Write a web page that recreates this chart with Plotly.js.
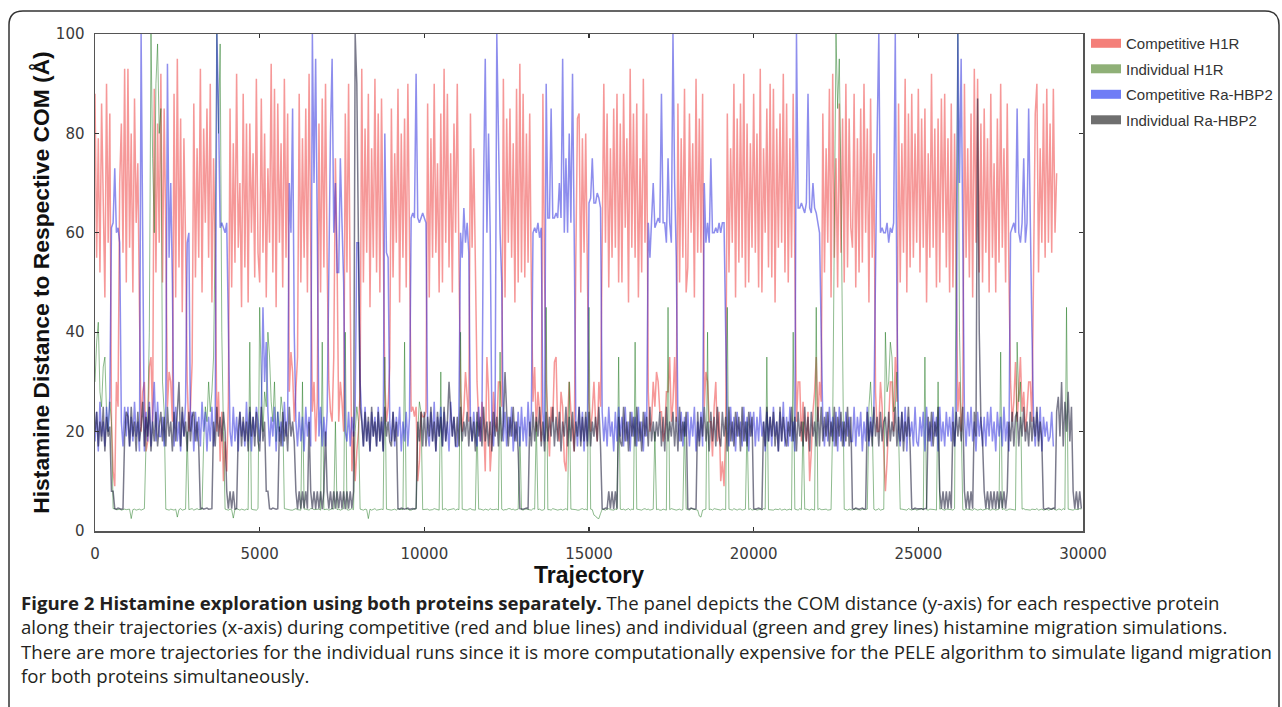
<!DOCTYPE html>
<html>
<head>
<meta charset="utf-8">
<script src="https://cdn.plot.ly/plotly-3.0.1.min.js"></script>
<style>
html,body{margin:0;padding:0;background:#ffffff;}
#chart{width:1282px;height:707px;}
</style>
</head>
<body>
<div id="chart"></div>
<script>
// ---------- DATA (one sample every 50 trajectories) ----------
const STEP = 50;
const seriesNames = ["Competitive H1R", "Individual H1R", "Competitive Ra-HBP2", "Individual Ra-HBP2"];

const compH1R = [
  88,55,79,52,86,61,47,90,58,84,22,12,9,30,25,70,82,56,93,50,
  93,57,80,48,87,62,74,45,20,28,30,16,18,33,35,22,89,52,82,58,
  92,50,85,60,25,32,30,22,88,47,95,53,83,44,79,58,30,20,25,34,
  86,51,77,55,93,48,81,62,85,55,90,46,75,57,20,28,14,24,10,18,
  12,26,85,49,78,54,92,57,70,45,88,53,82,46,82,60,76,51,91,56,
  50,87,56,80,47,73,58,94,52,89,45,86,58,78,49,91,55,84,28,36,
  32,22,28,35,88,50,79,55,85,48,92,55,24,30,18,26,82,48,87,53,
  90,54,30,24,22,35,75,55,22,30,26,20,84,52,90,47,12,20,10,16,
  20,28,93,50,81,56,88,45,77,55,91,52,84,48,87,60,30,22,25,33,
  85,51,76,58,89,46,80,55,83,49,90,58,24,25,23,25,10,14,24,23,
  23,24,86,47,79,55,90,56,74,48,84,50,93,58,88,53,76,48,82,60,
  90,55,28,20,24,32,26,22,84,57,77,50,30,22,18,26,22,12,35,28,
  12,18,28,22,20,30,30,25,91,47,83,58,85,55,78,46,89,50,94,52,
  88,51,80,54,84,49,26,33,20,28,24,18,88,52,30,22,15,25,22,34,
  35,20,18,28,25,14,12,22,30,24,20,16,55,83,84,48,79,56,80,51,
  26,20,24,30,22,18,30,25,53,90,58,84,49,77,55,85,57,88,50,82,
  50,88,61,79,46,93,57,84,55,86,47,75,52,91,58,84,28,20,22,30,
  25,32,30,24,24,18,20,28,28,35,22,26,35,22,86,50,79,55,89,48,
  53,84,60,78,47,91,56,83,56,88,25,32,30,22,22,15,25,30,18,24,
  10,14,9,20,84,52,77,58,90,47,83,54,86,55,92,49,82,50,78,57,
  88,56,80,49,93,48,77,60,85,53,90,51,89,46,81,57,84,58,92,52,
  86,50,79,55,88,47,22,30,30,18,26,20,18,24,10,16,24,28,35,22,
  30,26,84,52,77,58,89,47,92,55,75,49,86,56,83,50,90,53,83,61,
  57,88,49,79,52,85,54,90,60,81,46,87,55,76,28,20,20,30,25,16,
  8,14,22,30,30,20,35,26,86,50,78,56,91,48,84,53,88,55,80,58,
  89,52,83,57,85,46,76,55,92,57,81,49,83,50,87,60,88,53,79,48,
  86,49,80,55,24,30,20,26,90,55,77,51,84,47,93,58,91,52,82,50,
  85,56,79,48,88,55,74,48,83,54,90,57,77,50,86,52,30,22,26,34,
  22,28,35,24,28,20,24,30,30,22,55,84,90,52,77,58,86,55,89,58,
  82,56,89,60,72
];

const indivH1R = [
  30,38,42,28,25,33,35,24,20,26,22,4.5,4.5,4.3,4.3,4.4,4.2,4.3,4.4,4.3,
  4.3,4.4,2.5,4.3,4.4,4.2,4.3,4.4,4.2,4.3,4.5,18,22,40,100,75,60,90,98,80,
  85,30,24,4.4,4.3,4.2,4.4,4.3,4.2,4.4,2.8,4.3,4.5,4.2,4.3,4.4,20,4.3,4.4,4.5,
  4.2,4.4,4.5,4.3,4.3,4.4,18,25,22,30,24,28,35,60,100,80,98,40,20,4.4,
  4.3,4.2,4.4,4.3,2.6,4.4,4.5,4.3,4.2,4.4,4.3,4.2,4.4,4.3,38,4.4,4.3,4.2,4.2,4.5,
  45,30,20,28,25,40,35,26,22,30,18,24,20,27,24,4.5,4.4,4.3,4.3,4.2,
  4.2,4.4,4.5,4.3,4.3,4.2,30,4.4,4.4,4.3,4.2,4.5,4.5,4.3,4.3,4.4,4.4,4.2,38,4.3,
  4.3,4.4,4.2,4.3,4.5,4.4,22,4.3,4.4,4.2,4.3,4.5,40,4.3,4.2,4.4,4.5,4.3,20,25,
  22,4.4,4.3,4.2,4.4,4.3,2.5,4.4,4.2,4.3,4.5,4.2,4.3,4.4,4.4,4.3,35,4.4,4.3,4.2,
  4.2,4.3,4.4,4.2,4.5,4.4,4.3,4.3,38,4.4,4.4,4.2,4.2,4.3,4.5,4.4,20,26,24,4.3,
  4.3,4.4,4.4,4.2,4.2,4.3,4.5,4.4,4.3,4.2,32,4.3,4.4,4.5,4.2,4.3,4.3,4.4,4.5,4.2,
  4.4,4.3,40,4.4,4.3,4.2,4.2,4.4,4.5,4.3,4.3,4.2,22,4.4,4.4,4.3,4.2,4.4,4.3,4.2,
  4.5,4.3,4.3,4.4,4.4,4.2,36,4.4,4.2,4.3,4.3,4.5,4.5,4.3,4.4,4.2,4.3,4.4,21,4.3,
  4.2,4.4,4.4,4.3,4.3,4.2,4.5,4.4,22,4.3,4.4,4.2,4.2,4.4,45,4.3,4.3,4.2,4.5,4.4,
  4.4,4.2,4.3,4.4,4.2,4.3,4.5,4.2,30,4.4,4.4,4.3,4.3,4.2,4.2,4.4,4.5,4.3,4.4,4.2,
  45,4.4,4.3,3.2,3,2.6,2.5,3.5,4.4,4.3,4.2,4.4,4.5,4.3,4.3,4.2,4.4,4.3,35,4.4,
  4.3,4.4,4.2,4.3,4.5,4.2,4.4,4.3,38,4.4,4.3,4.2,4.2,4.4,4.5,4.3,4.4,4.2,4.3,4.4,
  20,4.3,4.4,4.2,4.2,4.4,4.3,4.2,45,4.3,4.5,4.4,4.4,4.2,4.3,4.4,4.2,4.3,22,4.4,
  4.3,4.2,4.5,4.4,4.4,4.3,4.2,3.0,2.8,4.2,4.3,4.4,40,4.3,4.4,4.2,4.5,4.4,4.3,4.2,
  4.2,4.4,4.4,4.3,45,4.4,4.3,4.2,4.5,4.3,4.2,4.4,4.4,4.2,4.3,4.4,22,4.3,4.5,4.2,
  4.3,4.4,4.2,4.3,4.4,4.2,4.5,4.4,35,4.3,4.3,4.2,4.2,4.4,4.4,4.3,4.5,4.2,4.3,4.4,
  4.2,4.3,4.4,4.2,40,4.4,4.3,4.2,4.5,4.3,22,4.4,4.4,4.3,4.2,4.4,4.3,4.2,45,4.3,
  4.5,4.3,4.3,4.4,4.4,4.2,4.2,4.3,22,60,100,85,95,70,30,4.4,4.3,4.2,4.4,4.3,
  4.2,4.4,4.5,4.3,4.3,4.2,4.4,4.3,4.3,4.4,25,30,22,4.4,4.2,4.3,4.5,4.2,4.3,4.4,
  40,28,30,38,35,24,25,32,20,4.4,4.4,4.3,4.3,4.2,4.5,4.3,4.2,4.4,4.4,4.2,
  4.3,4.4,4.5,4.2,35,4.3,4.2,4.4,4.4,4.3,4.3,4.2,30,4.4,4.5,4.3,4.2,4.4,4.4,4.3,
  4.3,4.2,4.5,60,100,40,20,4.3,4.2,4.4,4.4,4.3,4.3,4.2,4.5,4.4,4.2,4.3,4.4,4.2,
  4.3,4.4,4.5,4.3,4.2,4.4,4.4,4.2,4.3,4.4,36,4.3,4.5,4.2,4.2,4.4,4.4,4.3,4.3,4.2,
  38,26,30,4.4,4.5,4.3,4.3,4.2,4.2,4.4,4.4,4.3,4.5,4.2,4.3,4.4,4.2,4.3,4.4,4.2,
  4.3,4.4,4.5,4.3,4.2,4.4,4.4,4.2,4.5,4.3,45,4.4,4.3,4.2,4.2,4.4,4.4,4.3,4.5,4.4
];

const compRaHBP2 = [
  18,24,16,26,19,22,17,25,20,27,61,62,73,60,61,58,22,17,25,19,
  25,17,23,18,26,19,22,16,100,60,16,24,18,26,17,23,30,18,26,19,
  19,23,17,25,94,55,70,50,17,25,18,22,16,24,19,26,58,60,20,24,
  16,24,18,23,17,26,20,24,16,23,18,25,17,22,100,85,61,62,61,60,
  62,40,20,17,25,18,23,16,24,19,22,17,26,18,24,16,23,19,25,22,
  18,24,45,30,38,24,17,23,19,25,16,24,18,22,17,26,19,23,70,60,
  85,40,22,17,24,18,23,16,25,19,23,17,100,70,95,60,19,25,17,23,
  17,24,55,80,95,60,70,52,52,75,62,50,20,18,24,17,23,19,25,58,
  58,30,23,17,25,18,22,16,24,19,23,17,25,18,22,16,80,56,55,22,
  18,24,17,23,19,25,16,22,18,24,17,23,63,64,63,92,63,62,63,64,
  63,62,20,17,24,18,26,16,23,19,25,17,24,18,22,16,26,19,23,17,
  17,24,60,55,65,58,62,56,22,18,24,19,17,25,18,23,70,95,60,80,
  60,22,17,25,100,75,60,50,18,24,17,23,19,25,16,22,18,24,17,25,
  18,23,17,26,19,24,60,61,60,62,59,61,24,18,90,63,63,85,63,63,
  64,63,70,63,95,60,75,60,80,62,92,60,22,17,25,18,24,16,23,18,
  66,67,75,66,66,68,67,65,24,18,23,17,25,19,22,16,24,18,25,19,
  23,17,25,18,22,16,24,19,23,17,25,18,22,16,24,19,62,55,62,70,
  61,62,63,62,88,62,62,58,75,62,58,100,70,55,22,18,24,17,23,19,
  24,17,23,19,25,16,22,18,24,17,70,58,62,58,75,60,60,61,60,62,
  60,62,62,40,22,17,25,18,23,16,24,19,22,17,25,18,23,16,24,19,
  24,17,23,18,25,19,22,16,24,18,23,17,25,19,22,16,24,18,26,17,
  23,17,25,18,22,16,100,65,65,66,65,64,66,88,65,64,70,65,64,62,
  60,40,22,17,24,18,25,19,23,17,24,16,25,18,22,17,24,19,23,18,
  18,25,17,23,19,24,16,22,18,25,17,23,19,24,55,80,100,60,61,60,
  60,62,58,61,60,62,100,45,20,17,24,18,25,16,23,19,22,17,25,18,
  17,23,19,24,16,25,18,22,17,24,19,23,16,25,18,22,17,24,19,23,
  18,25,17,23,100,70,95,60,23,17,24,19,25,18,22,16,24,19,23,17,
  23,17,24,19,25,18,22,16,24,19,23,17,25,18,22,16,60,61,62,60,
  85,60,58,62,75,58,62,85,60,40,22,17,24,18,25,16,23,19,22,18,
  19,24,17
];

const indivRaHBP2 = [
  20,24,17,22,18,25,16,23,19,21,8,8,4.5,4.4,4.6,4.5,4.4,4.5,19,24,
  23,17,25,19,22,16,24,18,21,26,17,23,19,25,16,22,18,24,17,21,
  24,18,23,17,25,19,22,16,24,18,23,30,17,25,19,22,16,24,18,23,
  24,18,22,17,4.5,4.6,4.4,4.5,4.6,4.4,4.5,4.5,22,17,25,19,23,18,24,20,
  8,4.5,8,4.5,8,4.4,4.5,20,24,17,23,18,22,16,25,19,23,17,24,18,
  16,25,18,22,8,8,4.5,4.4,4.6,4.5,4.4,4.5,21,17,24,18,22,16,25,19,
  22,18,8,4.4,8,4.5,8,4.6,8,4.5,22,8,4.5,8,4.4,8,4.5,8,4.4,8,
  20,8,4.5,8,4.4,8,4.5,8,4.6,8,4.5,8,4.4,8,4.5,8,4.6,8,100,90,
  60,25,22,17,24,18,23,16,25,19,22,17,24,18,23,16,25,19,22,18,
  17,24,18,22,4.5,4.4,4.6,4.5,4.4,4.5,4.6,4.4,4.5,4.5,4.4,4.6,22,18,24,17,
  24,17,23,19,25,18,22,16,24,19,23,17,25,18,22,30,24,19,23,17,
  23,17,25,18,22,19,24,17,23,18,22,16,24,19,23,17,25,18,22,17,
  22,16,24,19,23,17,25,18,22,32,24,17,23,19,25,18,22,16,4.5,4.4,
  4.4,4.5,4.6,4.5,22,17,24,18,23,19,25,17,22,16,24,18,23,19,25,17,
  23,18,24,16,22,19,25,17,23,18,24,16,22,19,25,17,23,18,24,17,
  24,17,22,19,23,18,25,17,4.5,4.4,4.6,4.5,8,4.5,8,4.4,8,4.5,23,18,
  17,25,18,22,16,24,19,23,17,25,18,22,16,24,19,23,17,25,18,22,
  18,22,19,24,17,23,16,25,18,22,19,24,17,23,16,25,18,22,19,24,
  4.5,4.4,4.6,4.5,4.4,4.5,24,17,23,19,25,18,22,16,24,18,23,17,25,19,
  17,24,19,23,16,25,18,22,17,24,19,23,16,25,18,22,17,24,19,23,
  4.5,4.4,4.5,4.6,4.5,4.4,22,17,25,18,23,19,24,17,22,16,25,18,23,19,
  17,22,19,25,18,23,16,24,19,22,17,25,18,23,16,24,19,22,17,25,
  17,25,18,23,19,24,17,22,18,25,17,23,19,24,17,22,18,25,17,23,
  4.5,4.4,4.6,4.5,4.4,4.5,4.6,4.4,4.5,24,18,22,17,25,19,23,17,24,18,22,
  23,17,24,18,22,19,25,17,23,18,24,16,22,19,25,17,4.5,4.4,4.6,4.5,
  4.5,4.6,4.5,4.4,4.5,4.6,23,18,24,17,22,19,25,8,4.5,8,4.4,8,4.5,8,
  4.5,22,17,24,19,23,18,25,8,4.5,8,4.4,8,4.5,24,19,87,40,22,18,
  8,4.5,8,4.4,8,4.5,8,4.4,8,4.5,8,4.6,8,4.5,8,22,18,24,17,23,
  24,17,23,19,25,18,22,17,24,18,23,19,25,17,22,18,4.5,4.4,4.5,4.6,
  4.5,4.4,4.6,4.5,24,27,19,30,17,26,20,28,18,25,8,4.5,8,4.4,8,4.5
];

const xTickVals = [0, 5000, 10000, 15000, 20000, 25000, 30000];
const yTickVals = [0, 20, 40, 60, 80, 100];

const captionLines = [
  "<b>Figure 2 Histamine exploration using both proteins separately.</b> The panel depicts the COM distance (y-axis) for each respective protein",
  "along their trajectories (x-axis) during competitive (red and blue lines) and individual (green and grey lines) histamine migration simulations.",
  "There are more trajectories for the individual runs since it is more computationally expensive for the PELE algorithm to simulate ligand migration",
  "for both proteins simultaneously."
];

// ---------- STYLE ----------
const W = 1282, H = 707;
const PL = 95, PR = 1083, PT = 34, PB = 531;   // plot area in pixels
const pw = PR - PL, ph = PB - PT;
const px2x = p => (p - PL) / pw;
const py2y = p => (PB - p) / ph;

const lineColors = ["rgba(238,50,50,0.5)", "rgba(30,120,30,0.5)", "rgba(30,30,220,0.5)", "rgba(15,15,45,0.55)"];
const lineWidths = [1.5, 1, 1.5, 1.5];
const swatchColors = ["#f47f79", "#8fb077", "#6f7df6", "#6f6f6f"];
const dataSets = [compH1R, indivH1R, compRaHBP2, indivRaHBP2];

const traces = [];
dataSets.forEach((arr, k) => {
  traces.push({
    type: "scatter", mode: "lines",
    x: arr.map((_, i) => i * STEP), y: arr,
    line: {color: lineColors[k], width: lineWidths[k]},
    showlegend: false, hoverinfo: "skip", legendgroup: "g" + k
  });
});
seriesNames.forEach((nm, k) => {
  traces.push({
    type: "scatter", mode: "lines", x: [null], y: [null], name: nm,
    line: {color: swatchColors[k], width: 9},
    showlegend: true, legendgroup: "g" + k
  });
});

const font = "Liberation Sans, Arial, Helvetica, sans-serif";
const tickFont = "DejaVu Sans, Verdana, sans-serif";
const capFont = "Open Sans, Noto Sans, sans-serif";

const annotations = captionLines.map((t, i) => ({
  xref: "paper", yref: "paper",
  x: px2x(19), y: py2y(602 + i * 24.5),
  xanchor: "left", yanchor: "middle",
  text: t, showarrow: false, align: "left",
  font: {family: capFont, size: 18.6, color: "#231f20"}
}));

// rounded frame around the whole figure
const fx0 = px2x(9), fx1 = px2x(1279), fy0 = py2y(11), fyb = py2y(760);
const rx = 14 / pw, ry = 14 / ph;
const framePath = `M ${fx0},${fyb} L ${fx0},${fy0 - ry} Q ${fx0},${fy0} ${fx0 + rx},${fy0} ` +
  `L ${fx1 - rx},${fy0} Q ${fx1},${fy0} ${fx1},${fy0 - ry} L ${fx1},${fyb}`;

const layout = {
  width: W, height: H,
  margin: {l: PL, r: W - PR, t: PT, b: H - PB, pad: 0, autoexpand: false},
  paper_bgcolor: "#ffffff", plot_bgcolor: "#ffffff",
  showlegend: true,
  legend: {
    x: px2x(1086), y: 1.014, xanchor: "left", yanchor: "top",
    font: {family: font, size: 15, color: "#333333"},
    traceorder: "grouped", tracegroupgap: 3, itemwidth: 30,
    bgcolor: "rgba(0,0,0,0)"
  },
  xaxis: {
    range: [0, 30000], tickvals: xTickVals, ticktext: xTickVals.map(String),
    showgrid: false, zeroline: false, showline: true, linecolor: "#555555", linewidth: 1.5,
    mirror: "ticks", ticks: "inside", ticklen: 4, tickcolor: "#333333", tickwidth: 1.2,
    tickfont: {family: tickFont, size: 15, color: "#3a3a3a"}, ticklabelstandoff: 8,
    title: {text: "<b>Trajectory</b>", font: {family: font, size: 23, color: "#111111"}, standoff: 4}
  },
  yaxis: {
    range: [0, 100], tickvals: yTickVals, ticktext: yTickVals.map(String),
    showgrid: false, zeroline: false, showline: true, linecolor: "#555555", linewidth: 1.5,
    mirror: "ticks", ticks: "inside", ticklen: 4, tickcolor: "#333333", tickwidth: 1.2,
    tickfont: {family: tickFont, size: 15, color: "#3a3a3a"}, ticklabelstandoff: 6,
    title: {text: "<b>Histamine Distance to Respective COM (Å)</b>", font: {family: font, size: 22.8, color: "#111111"}, standoff: 0}
  },
  shapes: [{type: "path", xref: "paper", yref: "paper", path: framePath,
            line: {color: "#333333", width: 1.5}, fillcolor: "rgba(0,0,0,0)"}],
  annotations: annotations
};

Plotly.newPlot("chart", traces, layout, {displayModeBar: false, staticPlot: true});
</script>
</body>
</html>
